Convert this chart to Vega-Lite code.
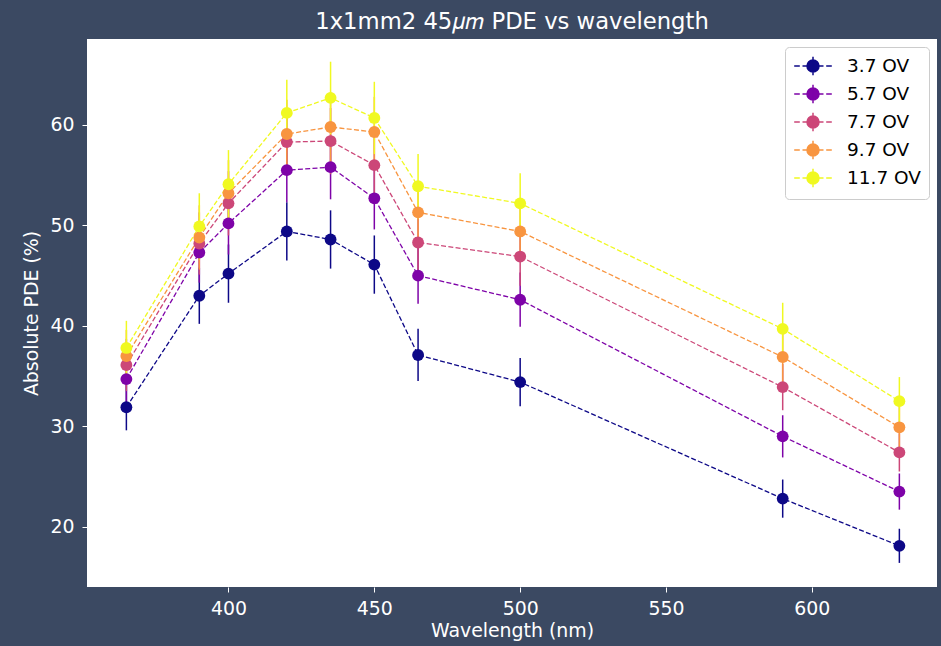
{
  "$schema": "https://vega.github.io/schema/vega-lite/v6.json",
  "width": 850,
  "height": 548,
  "autosize": {"type": "none"},
  "padding": {"left": 87, "top": 39, "right": 4, "bottom": 59},
  "background": "#3b4962",
  "title": {
    "text": "1x1mm2 45𝜇𝑚 PDE vs wavelength",
    "color": "white",
    "font": "DejaVu Sans",
    "fontSize": 22.7,
    "fontWeight": "normal",
    "anchor": "middle",
    "offset": 5
  },
  "config": {
    "view": {"fill": "white", "stroke": null},
    "font": "DejaVu Sans",
    "axis": {
      "grid": false,
      "domain": false,
      "tickColor": "white",
      "tickSize": 5,
      "tickWidth": 1,
      "labelColor": "white",
      "labelFont": "DejaVu Sans",
      "labelFontSize": 18.9,
      "titleColor": "white",
      "titleFont": "DejaVu Sans",
      "titleFontSize": 18.9,
      "titleFontWeight": "normal"
    }
  },
  "data": {
    "values": [
      {"ov": "3.7 OV", "wl": 365, "pde": 31.9, "err": 2.3},
      {"ov": "3.7 OV", "wl": 390, "pde": 43.0, "err": 2.8},
      {"ov": "3.7 OV", "wl": 400, "pde": 45.2, "err": 2.9},
      {"ov": "3.7 OV", "wl": 420, "pde": 49.4, "err": 2.9},
      {"ov": "3.7 OV", "wl": 435, "pde": 48.6, "err": 2.9},
      {"ov": "3.7 OV", "wl": 450, "pde": 46.1, "err": 2.9},
      {"ov": "3.7 OV", "wl": 465, "pde": 37.1, "err": 2.6},
      {"ov": "3.7 OV", "wl": 500, "pde": 34.4, "err": 2.4},
      {"ov": "3.7 OV", "wl": 590, "pde": 22.8, "err": 1.9},
      {"ov": "3.7 OV", "wl": 630, "pde": 18.1, "err": 1.7},
      {"ov": "5.7 OV", "wl": 365, "pde": 34.7, "err": 2.5},
      {"ov": "5.7 OV", "wl": 390, "pde": 47.3, "err": 3.0},
      {"ov": "5.7 OV", "wl": 400, "pde": 50.2, "err": 3.1},
      {"ov": "5.7 OV", "wl": 420, "pde": 55.5, "err": 3.2},
      {"ov": "5.7 OV", "wl": 435, "pde": 55.8, "err": 3.2},
      {"ov": "5.7 OV", "wl": 450, "pde": 52.7, "err": 3.1},
      {"ov": "5.7 OV", "wl": 465, "pde": 45.0, "err": 2.8},
      {"ov": "5.7 OV", "wl": 500, "pde": 42.6, "err": 2.7},
      {"ov": "5.7 OV", "wl": 590, "pde": 29.0, "err": 2.1},
      {"ov": "5.7 OV", "wl": 630, "pde": 23.5, "err": 1.8},
      {"ov": "7.7 OV", "wl": 365, "pde": 36.1, "err": 2.6},
      {"ov": "7.7 OV", "wl": 390, "pde": 48.2, "err": 3.1},
      {"ov": "7.7 OV", "wl": 400, "pde": 52.2, "err": 3.2},
      {"ov": "7.7 OV", "wl": 420, "pde": 58.3, "err": 3.3},
      {"ov": "7.7 OV", "wl": 435, "pde": 58.4, "err": 3.3},
      {"ov": "7.7 OV", "wl": 450, "pde": 56.0, "err": 3.3},
      {"ov": "7.7 OV", "wl": 465, "pde": 48.3, "err": 3.0},
      {"ov": "7.7 OV", "wl": 500, "pde": 46.9, "err": 2.9},
      {"ov": "7.7 OV", "wl": 590, "pde": 33.9, "err": 2.3},
      {"ov": "7.7 OV", "wl": 630, "pde": 27.4, "err": 1.9},
      {"ov": "9.7 OV", "wl": 365, "pde": 37.0, "err": 2.6},
      {"ov": "9.7 OV", "wl": 390, "pde": 48.8, "err": 3.2},
      {"ov": "9.7 OV", "wl": 400, "pde": 53.2, "err": 3.3},
      {"ov": "9.7 OV", "wl": 420, "pde": 59.1, "err": 3.4},
      {"ov": "9.7 OV", "wl": 435, "pde": 59.8, "err": 3.5},
      {"ov": "9.7 OV", "wl": 450, "pde": 59.3, "err": 3.5},
      {"ov": "9.7 OV", "wl": 465, "pde": 51.3, "err": 3.1},
      {"ov": "9.7 OV", "wl": 500, "pde": 49.4, "err": 3.0},
      {"ov": "9.7 OV", "wl": 590, "pde": 36.9, "err": 2.5},
      {"ov": "9.7 OV", "wl": 630, "pde": 29.9, "err": 2.2},
      {"ov": "11.7 OV", "wl": 365, "pde": 37.8, "err": 2.7},
      {"ov": "11.7 OV", "wl": 390, "pde": 49.9, "err": 3.3},
      {"ov": "11.7 OV", "wl": 400, "pde": 54.1, "err": 3.4},
      {"ov": "11.7 OV", "wl": 420, "pde": 61.2, "err": 3.3},
      {"ov": "11.7 OV", "wl": 435, "pde": 62.7, "err": 3.6},
      {"ov": "11.7 OV", "wl": 450, "pde": 60.7, "err": 3.6},
      {"ov": "11.7 OV", "wl": 465, "pde": 53.9, "err": 3.2},
      {"ov": "11.7 OV", "wl": 500, "pde": 52.2, "err": 3.0},
      {"ov": "11.7 OV", "wl": 590, "pde": 39.7, "err": 2.6},
      {"ov": "11.7 OV", "wl": 630, "pde": 32.5, "err": 2.4}
    ]
  },
  "encoding": {
    "x": {
      "field": "wl",
      "type": "quantitative",
      "scale": {"domain": [351.5, 642.9], "nice": false, "zero": false},
      "axis": {"title": "Wavelength (nm)", "values": [400, 450, 500, 550, 600], "labelPadding": 7, "titlePadding": 4}
    },
    "y": {
      "field": "pde",
      "type": "quantitative",
      "scale": {"domain": [14.0, 68.56], "nice": false, "zero": false},
      "axis": {"title": "Absolute PDE (%)", "values": [20, 30, 40, 50, 60], "labelPadding": 8, "titlePadding": 8}
    },
    "color": {
      "field": "ov",
      "type": "nominal",
      "scale": {
        "domain": ["3.7 OV", "5.7 OV", "7.7 OV", "9.7 OV", "11.7 OV"],
        "range": ["#0d0887", "#7e03a8", "#cc4778", "#f89540", "#f0f921"]
      },
      "legend": {
        "title": null,
        "orient": "top-right",
        "offset": 8,
        "fillColor": "white",
        "strokeColor": "#cccccc",
        "cornerRadius": 4,
        "padding": 8,
        "labelFont": "DejaVu Sans",
        "labelFontSize": 18.5,
        "labelColor": "black",
        "rowPadding": 2,
        "symbolSize": 400,
        "symbolOffset": 9,
        "labelOffset": 23,
        "symbolType": "M-1.88,0H-1.32M-1.05,0H-0.55M0.55,0H1.05M1.32,0H1.88M0,-0.93V0.93M-0.6,0A0.6,0.6,0,1,1,0.6,0A0.6,0.6,0,1,1,-0.6,0Z",
        "symbolStrokeWidth": 1.5,
        "encode": {
          "symbols": {
            "update": {
              "fill": {"scale": "color", "field": "value"},
              "stroke": {"scale": "color", "field": "value"},
              "opacity": {"value": 1},
              "fillOpacity": {"value": 1},
              "strokeOpacity": {"value": 1}
            }
          }
        }
      }
    }
  },
  "layer": [
    {
      "mark": {"type": "line", "strokeDash": [5, 2.3], "strokeWidth": 1.3}
    },
    {
      "mark": {"type": "errorbar", "thickness": 1.5},
      "encoding": {"yError": {"field": "err"}}
    },
    {
      "mark": {"type": "point", "filled": true, "size": 140, "opacity": 1}
    }
  ]
}
